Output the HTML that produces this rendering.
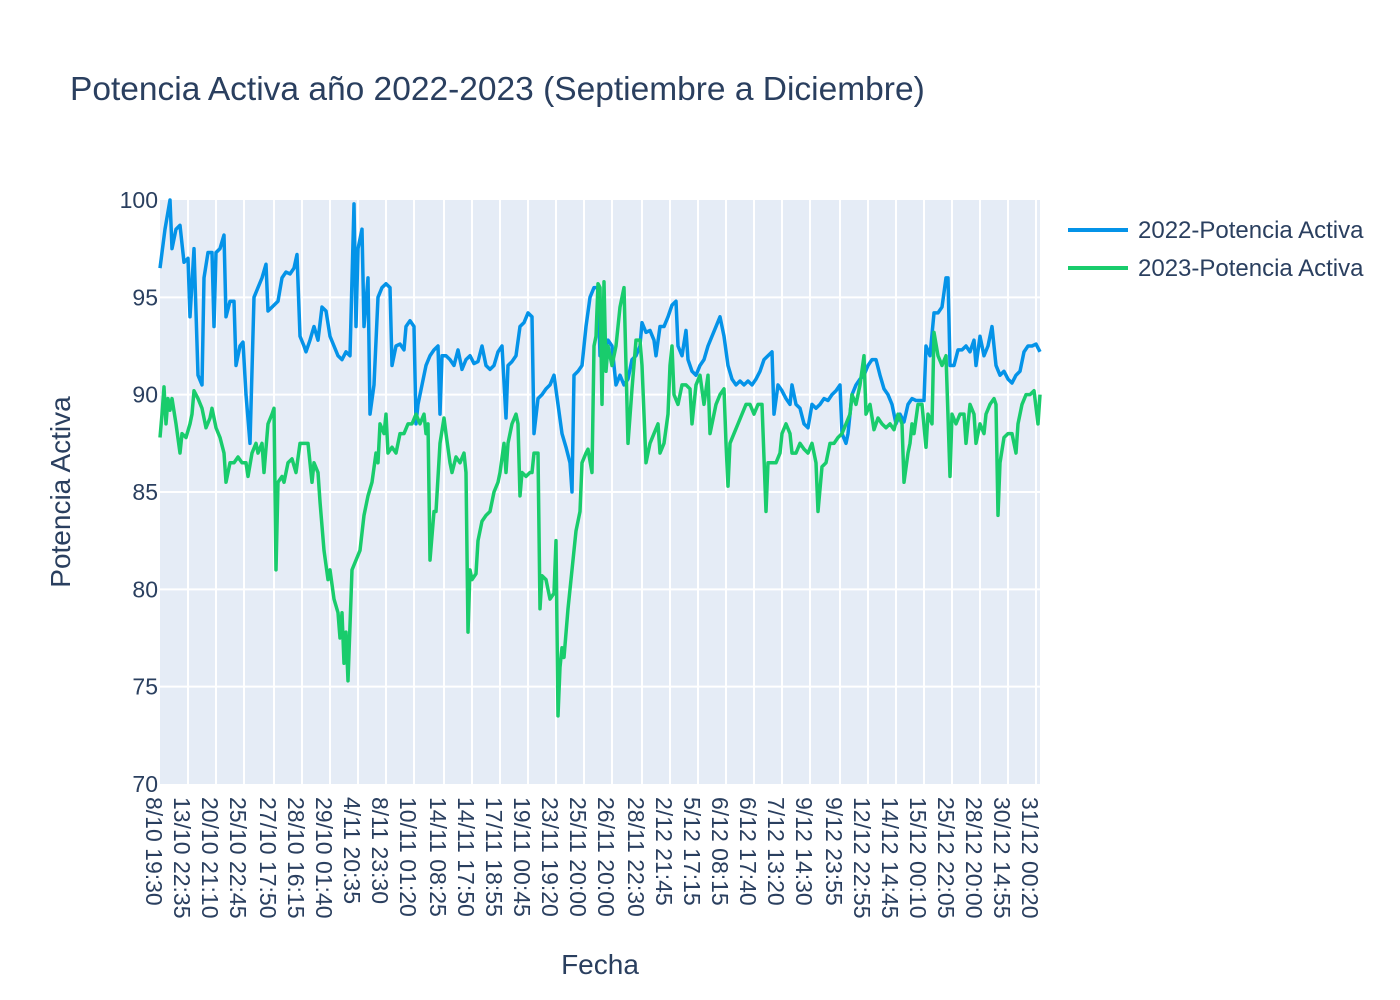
<!DOCTYPE html>
<html><head><meta charset="utf-8"><style>
html,body{margin:0;padding:0;background:#fff;}
svg{display:block;font-family:"Liberation Sans",Arial,sans-serif;}
</style></head><body>
<svg id="chart" width="1400" height="1000" viewBox="0 0 1400 1000">
<rect x="0" y="0" width="1400" height="1000" fill="#fff"/>
<text x="70" y="100" font-size="33.5" fill="#2a3f5f">Potencia Activa año 2022-2023 (Septiembre a Diciembre)</text>
<rect x="160" y="200" width="880" height="584" fill="#e5ecf6"/>
<g id="grid"></g>
<g id="series"></g>
<g id="yticks"></g>
<g id="xticks"></g>
<text transform="translate(70,492) rotate(-90)" text-anchor="middle" font-size="28" fill="#2a3f5f">Potencia Activa</text>
<text x="600" y="974" text-anchor="middle" font-size="28" fill="#2a3f5f">Fecha</text>
<g>
<g>
<line x1="1068" y1="230" x2="1128" y2="230" stroke="#0493e8" stroke-width="4"/>
<text x="1138" y="238" font-size="24" fill="#2a3f5f">2022-Potencia Activa</text></g>
<g>
<line x1="1068" y1="268" x2="1128" y2="268" stroke="#19cc6c" stroke-width="4"/>
<text x="1138" y="276" font-size="24" fill="#2a3f5f">2023-Potencia Activa</text></g>
</g>
</svg>
<script>
const tickIdx=[0,14,28,42,57,71,85,99,113,127,142,156,170,184,198,212,226,241,255,269,283,297,311,325,340,354,368,382,396,410,424,438];
const tickLabels=["8/10 19:30","13/10 22:35","20/10 21:10","25/10 22:45","27/10 17:50","28/10 16:15","29/10 01:40","4/11 20:35","8/11 23:30","10/11 01:20","14/11 08:25","14/11 17:50","17/11 18:55","19/11 00:45","23/11 19:20","25/11 20:00","26/11 20:00","28/11 22:30","2/12 21:45","5/12 17:15","6/12 08:15","6/12 17:40","7/12 13:20","9/12 14:30","9/12 23:55","12/12 22:55","14/12 14:45","15/12 00:10","25/12 22:05","28/12 20:00","30/12 14:55","31/12 00:20"];
const yTicks=[70,75,80,85,90,95,100];
const bluePx=[160,165,170,172,176,180,184,188,190,194,198,202,204,208,212,214,216,220,224,226,230,234,236,240,243,246,250,254,258,262,266,268,272,278,282,286,290,294,297,300,304,306,310,314,318,322,326,330,334,338,342,346,350,354,356,358,362,364,368,370,374,378,382,386,390,392,396,400,404,406,410,414,416,418,422,426,430,434,438,440,442,446,450,454,458,462,466,470,474,478,482,486,490,494,498,502,506,508,512,516,520,524,528,532,534,538,542,546,550,554,558,562,566,570,572,574,578,582,586,590,594,598,600,604,608,612,616,620,624,628,632,636,640,642,646,650,654,656,660,664,668,672,676,678,682,686,688,692,696,700,704,708,712,716,720,724,728,732,736,740,744,748,752,756,760,764,768,772,774,778,782,786,790,792,796,800,804,808,812,816,820,824,828,832,836,840,842,846,848,852,856,860,864,868,872,876,880,884,888,892,896,900,904,908,912,916,920,924,926,930,934,938,942,946,948,950,954,958,962,966,970,974,976,980,984,988,992,996,1000,1004,1008,1012,1016,1020,1024,1028,1032,1036,1040];
const blueVal=[96.5,98.5,100,97.5,98.5,98.7,96.8,97,94,97.5,91,90.5,96,97.3,97.3,93.5,97.3,97.5,98.2,94,94.8,94.8,91.5,92.5,92.7,90,87.5,95,95.5,96,96.7,94.3,94.5,94.8,96,96.3,96.2,96.5,97.2,93,92.5,92.2,92.8,93.5,92.8,94.5,94.3,93,92.5,92,91.8,92.2,92,99.8,93.5,97.5,98.5,93.5,96,89,90.5,95,95.5,95.7,95.5,91.5,92.5,92.6,92.3,93.5,93.8,93.5,88.5,89.5,90.5,91.5,92,92.3,92.5,89,92,92,91.8,91.5,92.3,91.3,91.8,92,91.6,91.7,92.5,91.5,91.3,91.5,92.2,92.5,88.8,91.5,91.7,92,93.5,93.7,94.2,94,88,89.8,90,90.3,90.5,91,89.5,88,87.3,86.5,85,91,91.2,91.5,93.5,95,95.5,95.5,92,92.3,92.8,92.5,90.5,91,90.5,90.8,91.8,92,92.5,93.7,93.2,93.3,92.8,92,93.5,93.5,94,94.6,94.8,92.5,92,93.3,91.8,91.2,91,91.5,91.8,92.5,93,93.5,94,93,91.5,90.8,90.5,90.7,90.5,90.7,90.5,90.8,91.2,91.8,92,92.2,89,90.5,90.2,89.8,89.5,90.5,89.5,89.3,88.5,88.3,89.5,89.3,89.5,89.8,89.7,90,90.2,90.5,88,87.5,88,90,90.5,90.8,91,91.5,91.8,91.8,91,90.3,90,89.5,88.5,89,88.6,89.5,89.8,89.7,89.7,89.7,92.5,92,94.2,94.2,94.5,96,96,91.5,91.5,92.3,92.3,92.5,92.2,92.8,91.5,93,92,92.5,93.5,91.5,91,91.2,90.8,90.6,91,91.2,92.2,92.5,92.5,92.6,92.2];
const greenPx=[160,162,164,166,168,170,172,176,180,182,186,190,192,194,198,202,206,210,212,216,220,224,226,230,234,238,242,246,248,252,256,258,262,264,268,272,274,276,278,282,284,288,292,296,300,304,308,312,314,318,320,324,328,330,334,338,340,342,344,346,348,352,356,360,364,368,372,376,378,380,384,386,388,392,396,400,404,408,412,416,420,424,426,428,430,434,436,440,444,446,450,452,456,460,464,466,468,470,472,476,478,482,486,490,494,498,500,504,506,508,512,516,518,520,522,526,530,532,534,538,540,542,546,550,554,556,558,560,562,564,568,572,576,578,580,582,586,588,592,594,596,598,600,602,604,606,608,612,616,620,624,626,628,632,636,640,642,646,650,654,658,660,664,668,670,672,674,678,682,686,690,692,696,700,704,708,710,712,716,720,724,726,728,730,734,738,742,746,750,754,758,762,766,768,772,776,780,782,786,790,792,796,800,804,808,812,816,818,822,826,830,834,838,842,846,850,852,856,860,864,866,870,874,878,882,886,890,894,898,902,904,908,910,912,914,918,922,926,928,932,934,938,942,946,950,952,956,960,964,966,970,974,976,980,984,986,990,994,996,998,1000,1004,1008,1012,1016,1018,1022,1026,1030,1034,1038,1040];
const greenVal=[87.8,89,90.4,88.5,89.8,89.2,89.8,88.5,87,88,87.8,88.5,89,90.2,89.8,89.3,88.3,88.8,89.3,88.3,87.8,87,85.5,86.5,86.5,86.8,86.5,86.5,85.8,87,87.5,87,87.5,86,88.5,89,89.3,81,85.5,85.8,85.5,86.5,86.7,86,87.5,87.5,87.5,85.5,86.5,86,84.5,82,80.5,81,79.5,78.8,77.5,78.8,76.2,77.8,75.3,81,81.5,82,83.8,84.8,85.5,87,86.5,88.5,88,89,87,87.3,87,88,88,88.5,88.5,89,88.5,89,88,88.5,81.5,84,84,87.5,88.8,88,86.5,86,86.8,86.5,87,86,77.8,81,80.5,80.8,82.5,83.5,83.8,84,85,85.5,86,87.5,86,87.5,88.5,89,88.5,84.8,86,85.8,86,86,87,87,79,80.7,80.5,79.5,79.8,82.5,73.5,76,77,76.5,79,81,83,83.5,84,86.5,87,87.2,86,92.5,93,95.7,95.5,89.5,95.8,91.2,92.5,91.5,92.5,94.5,95.5,91.5,87.5,90.3,92.8,92.8,91.5,86.5,87.5,88,88.5,87,87.5,89,91.5,92.5,90,89.5,90.5,90.5,90.3,88.5,90.5,91,89.5,91,88,88.5,89.5,90,90.3,87.5,85.3,87.5,88,88.5,89,89.5,89.5,89,89.5,89.5,84,86.5,86.5,86.5,87,88,88.5,88,87,87,87.5,87.2,87,87.5,86.5,84,86.3,86.5,87.5,87.5,87.8,88,88.5,89,90,89.5,90.5,92,89,89.5,88.2,88.8,88.5,88.3,88.5,88.2,89,88.5,85.5,87,87.5,88.5,88,89.5,89.5,87.3,89,88.5,93.2,92,91.5,92,85.8,89,88.5,89,89,87.5,89.5,89,87.5,88.5,88,89,89.5,89.8,89.5,83.8,86.5,87.8,88,88,87,88.5,89.5,90,90,90.2,88.5,90];

const NS='http://www.w3.org/2000/svg';
const X0=160,X1=1040,Y0=784,Y1=200,NMAX=440;
function xIdx(i){return X0+(i/NMAX)*(X1-X0);}
function y(v){return Y0-(v-70)/(100-70)*(Y0-Y1);}
function mk(tag,attrs,parent){const e=document.createElementNS(NS,tag);for(const k in attrs)e.setAttribute(k,attrs[k]);parent.appendChild(e);return e;}
const grid=document.getElementById('grid');
yTicks.forEach(v=>{
 if(v>70&&v<100){const l=mk('line',{x1:X0,x2:X1,y1:y(v),y2:y(v),stroke:'#fff','stroke-width':2},grid);
 
 }
 const t=mk('text',{x:158,y:y(v)+8,'text-anchor':'end','font-size':23,fill:'#2a3f5f'},document.getElementById('yticks'));
 t.textContent=v;
 
 
});
tickIdx.forEach((ti,k)=>{
 const x=xIdx(ti);
 if(k>0){const l=mk('line',{x1:x,x2:x,y1:Y1,y2:Y0,stroke:'#fff','stroke-width':2},grid);
 
 }
 const t=mk('text',{transform:`translate(${x-14},797) rotate(90)`,'font-size':23,fill:'#2a3f5f'},document.getElementById('xticks'));
 t.textContent=tickLabels[k];
 
 
});
function draw(px,vals,color,name){
 const pts=px.map((p,i)=>xIdx((p-X0)/2)+','+y(vals[i])).join(' ');
 const pl=mk('polyline',{points:pts,fill:'none',stroke:color,'stroke-width':3.5,'stroke-linejoin':'round'},document.getElementById('series'));
 
 
}
draw(bluePx,blueVal,'#0493e8','series-2022-line');
draw(greenPx,greenVal,'#19cc6c','series-2023-line');
</script>
</body></html>
